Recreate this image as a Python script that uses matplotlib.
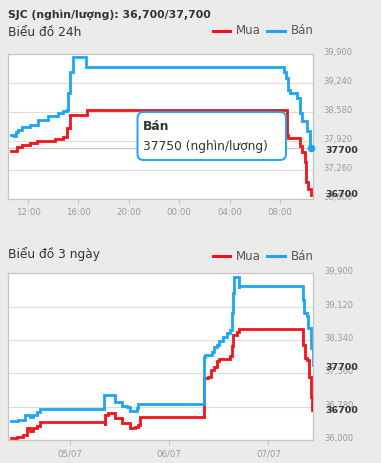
import matplotlib
matplotlib.use("Agg")
import matplotlib.pyplot as plt
from matplotlib.patches import FancyBboxPatch
from matplotlib.lines import Line2D
from matplotlib.ticker import FuncFormatter, FixedLocator
import matplotlib.transforms as mtransforms

# ---- 24h chart: hours relative to 12:00 on 06/07 ----
h24_buy = [-1.35, -0.87, -0.48, 0.16, 0.71, 2.14, 2.78, 3.10, 3.33, 4.68,
           20.34, 20.53, 20.63, 21.45, 21.59, 21.75, 21.98, 22.06, 22.22, 22.46]
v24_buy = [37680, 37770, 37830, 37880, 37920, 37960, 38000, 38216, 38500, 38610,
           38610, 38060, 37990, 37990, 37800, 37660, 37430, 36980, 36830, 36700]

h24_sell = [-1.35, -1.10, -0.95, -0.79, -0.48, 0.16, 0.79, 1.59, 2.38, 2.78, 3.10,
            3.17, 3.33, 3.57, 4.60, 4.64, 20.08, 20.30, 20.48, 20.63, 20.80,
            21.33, 21.35, 21.59, 21.75, 22.12, 22.38, 22.46]
v24_sell = [38057, 38030, 38110, 38170, 38240, 38280, 38400, 38490, 38560, 38600, 38620,
            39010, 39470, 39830, 39830, 39600, 39600, 39490, 39350, 39080, 39010,
            38970, 38900, 38560, 38380, 38150, 37810, 37750]

ticks24 = [0, 4, 8, 12, 16, 20]
ticklabels24 = ["12:00", "16:00", "20:00", "00:00", "04:00", "08:00"]
yticks24 = [36600, 37260, 37920, 38580, 39240, 39900]

# ---- 3-day chart: days relative to 05/07 00:00 ----
d3_buy = [-0.595, -0.537, -0.471, -0.437, -0.403, -0.370, -0.336, -0.302,
          0.346, 0.348, 0.353, 0.380, 0.454, 0.521, 0.572, 0.605, 0.655, 0.689, 0.706,
          1.344, 1.351, 1.394, 1.418, 1.452, 1.479, 1.505, 1.613, 1.630, 1.646, 1.680, 1.707,
          2.329, 2.352, 2.369, 2.392, 2.409, 2.426, 2.442]
v3_buy = [36040, 36077, 36117, 36274, 36218, 36274, 36327, 36428,
          36428, 36351, 36585, 36639, 36508, 36405, 36405, 36288, 36311, 36351, 36545,
          36545, 37443, 37481, 37637, 37714, 37855, 37888, 37965, 38199, 38456, 38533, 38589,
          38589, 38222, 37925, 37871, 37481, 37013, 36700]

d3_sell = [-0.595, -0.521, -0.454, -0.403, -0.373, -0.336, -0.302,
           0.336, 0.343, 0.386, 0.454, 0.521, 0.572, 0.605, 0.672, 0.689,
           1.338, 1.351, 1.361, 1.428, 1.452, 1.479, 1.505, 1.545, 1.580, 1.613,
           1.630, 1.640, 1.653, 1.697, 1.699, 1.707,
           2.326, 2.346, 2.359, 2.386, 2.402, 2.426, 2.447]
v3_sell = [36444, 36468, 36585, 36545, 36585, 36662, 36718,
           36718, 37053, 37053, 36896, 36795, 36779, 36685, 36741, 36835,
           36835, 37934, 37988, 38065, 38168, 38222, 38316, 38416, 38510, 38573,
           38963, 39431, 39806, 39806, 39548, 39602,
           39602, 39275, 38963, 38900, 38613, 38145, 37750]

ticks3 = [0, 1, 2]
ticklabels3 = ["05/07", "06/07", "07/07"]
yticks3 = [36000, 36780, 37560, 38340, 39120, 39900]

title_text = "SJC (nghìn/lượng): 36,700/37,700"
chart24_title = "Biểu đồ 24h"
chart3_title = "Biểu đồ 3 ngày"
series_names = ["Mua", "Bán"]
current_buy = 36700
current_sell = 37700
hover_value = 37750
hover_unit = "(nghìn/lượng)"

RED = "#f0141c"
BLUE = "#1ca6f2"
BG = "#ebebeb"
GRID = "#dcdcdc"
TICK = "#9a9a9a"
TEXT = "#333333"

W, H = 381, 463
fig = plt.figure(figsize=(W / 100, H / 100), dpi=100, facecolor=BG)
plt.rcParams["font.family"] = ["DejaVu Sans"]


def fx(px):
    return px / W


def fy(py):
    return 1 - py / H


def make_axes(left, top, right, bottom):
    return fig.add_axes([fx(left), fy(bottom), fx(right - left), (bottom - top) / H])


def style_axes(ax, xlim, ylim, yticks, xticks, xlabels):
    ax.set_facecolor("white")
    ax.set_xlim(*xlim)
    ax.set_ylim(*ylim)
    for s in ax.spines.values():
        s.set_color("#c4c4c4")
        s.set_linewidth(0.9)
    ax.yaxis.tick_right()
    ax.yaxis.set_major_locator(FixedLocator(yticks))
    ax.yaxis.set_major_formatter(FuncFormatter(lambda v, p: f"{int(v):,}"))
    ax.tick_params(axis="y", length=0, pad=8, labelsize=6, labelcolor=TICK)
    ax.set_xticks(xticks)
    ax.set_xticklabels(xlabels)
    ax.tick_params(axis="x", length=3.5, width=0.8, color="#c4c4c4", pad=3,
                   labelsize=6.2, labelcolor=TICK)
    ax.grid(axis="y", color=GRID, linewidth=0.8)
    ax.set_axisbelow(True)
    off = mtransforms.ScaledTranslation(0, 2.5 / 100, fig.dpi_scale_trans)
    for lab in ax.get_yticklabels():
        lab.set_transform(lab.get_transform() + off)


def header(title_y, legend_y, label):
    fig.text(fx(8), fy(title_y), label, fontsize=8.8, color=TEXT, va="center", ha="left")
    fig.add_artist(Line2D([fx(213), fx(230)], [fy(legend_y)] * 2, color=RED, lw=2.2))
    fig.text(fx(236), fy(legend_y), series_names[0], fontsize=8.5, color="#555555",
             va="center", ha="left")
    fig.add_artist(Line2D([fx(267), fx(285)], [fy(legend_y)] * 2, color=BLUE, lw=2.2))
    fig.text(fx(291), fy(legend_y), series_names[1], fontsize=8.5, color="#555555",
             va="center", ha="left")


def value_labels(ax, values):
    tr = mtransforms.blended_transform_factory(fig.transFigure, ax.transData)
    for v in values:
        ax.text(fx(325), v, str(v), transform=tr, fontsize=6.8, fontweight="bold",
                color=TEXT, va="center", ha="left", clip_on=False)


# Title
fig.text(fx(8), fy(15), title_text, fontsize=7.8, fontweight="bold", color=TEXT,
         va="center", ha="left")

# ---- 24h chart ----
header(32.5, 30.7, chart24_title)
ax1 = make_axes(8, 53.5, 312.5, 199)
style_axes(ax1, (-1.59, 22.58), (36600, 39900), yticks24, ticks24, ticklabels24)
ax1.axhline(hover_value, color="#c8c8c8", lw=0.9, zorder=1)
ax1.plot(h24_buy, v24_buy, drawstyle="steps-post", color=RED, lw=2.0,
         solid_joinstyle="miter", zorder=3)
ax1.plot(h24_sell, v24_sell, drawstyle="steps-post", color=BLUE, lw=2.0,
         solid_joinstyle="miter", zorder=3)
ax1.plot([h24_sell[-1]], [hover_value], "o", color=BLUE, ms=4.5, zorder=4, clip_on=False)
value_labels(ax1, [current_sell, current_buy])

# Tooltip
tip = FancyBboxPatch((1.375, (H - 160) / 100), 1.485, 0.48,
                     boxstyle="round,pad=0,rounding_size=0.06",
                     transform=fig.dpi_scale_trans, facecolor="white",
                     edgecolor=BLUE, linewidth=1.4, zorder=10)
fig.add_artist(tip)
fig.text(fx(143), fy(126.5), series_names[1], fontsize=8.8, fontweight="bold",
         color=TEXT, va="center", ha="left", zorder=11)
fig.text(fx(143), fy(146.5), f"{hover_value} {hover_unit}", fontsize=8.8,
         color=TEXT, va="center", ha="left", zorder=11)

# ---- 3-day chart ----
header(254, 256, chart3_title)
ax2 = make_axes(8, 273.3, 313, 440)
style_axes(ax2, (-0.625, 2.45), (36000, 39900), yticks3, ticks3, ticklabels3)
ax2.plot(d3_buy, v3_buy, drawstyle="steps-post", color=RED, lw=2.0,
         solid_joinstyle="miter", zorder=3)
ax2.plot(d3_sell, v3_sell, drawstyle="steps-post", color=BLUE, lw=2.0,
         solid_joinstyle="miter", zorder=3)
value_labels(ax2, [current_sell, current_buy])

fig.savefig("out.png", dpi=100, facecolor=BG)
